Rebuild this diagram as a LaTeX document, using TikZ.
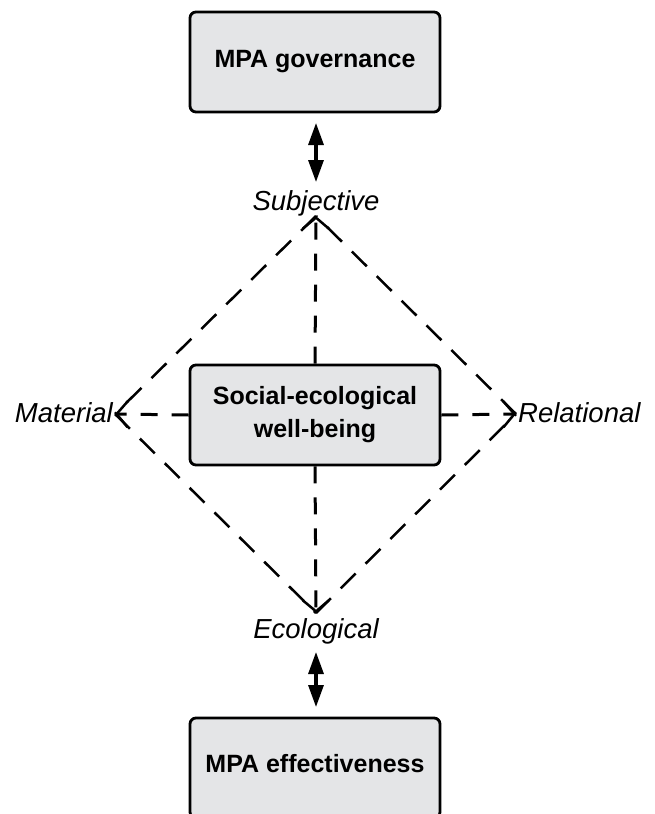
\documentclass[tikz,border=0pt]{standalone}
\usepackage{fontspec}
\setmainfont{Liberation Sans}
\usetikzlibrary{arrows.meta}
\definecolor{boxgray}{HTML}{E4E5E7}
\begin{document}
\begin{tikzpicture}[x=1pt,y=-1pt,
  mainbox/.style={draw=black, line width=2.8pt, fill=boxgray, rounded corners=6pt,
    minimum width=250pt, minimum height=100pt, inner sep=0pt, align=center,
    font=\fontsize{25}{33}\selectfont\bfseries},
  dimlabel/.style={inner sep=0pt, font=\fontsize{27.5}{30}\selectfont\itshape},
  spoke/.style={line width=3pt, dash pattern=on 17pt off 14pt,
    -{Straight Barb[length=11pt,width=26pt,line width=2.5pt]}},
  edge/.style={line width=2.5pt, dash pattern=on 21pt off 14pt},
  dbl/.style={line width=3.2pt, {Triangle[length=22pt,width=15pt]}-{Triangle[length=22pt,width=15pt]}}
]
\useasboundingbox (0,0) rectangle (655,814);
\node[mainbox] (gov) at (315,62) {MPA governance};
\node[mainbox] (swb) at (315,415) {Social-ecological\\well-being};
\node[mainbox] (eff) at (315,768) {};
\node[inner sep=0pt, anchor=base, font=\fontsize{25}{33}\selectfont\bfseries] (efftxt) at (315,772) {MPA effectiveness};

\coordinate (S) at (316,216);
\coordinate (E) at (316,613);
\coordinate (M) at (115,414);
\coordinate (R) at (516,414);

\node[dimlabel, anchor=base] (subj) at (316,210) {Subjective};
\node[dimlabel, anchor=base] (eco) at (316,638) {Ecological};
\node[dimlabel, anchor=base east] (mat) at (113,422) {Material};
\node[dimlabel, anchor=base west] (rel) at (518,422) {Relational};

% dashed spokes
\draw[spoke] (swb.north) -- (S);
\draw[spoke] (swb.south) -- (E);
\draw[spoke] (swb.west) -- (M);
\draw[spoke] (swb.east) -- (R);

% dashed diamond
\draw[edge] (S) -- (M);
\draw[edge] (M) -- (E);
\draw[edge] (E) -- (R);
\draw[edge] (R) -- (S);

% double arrows
\coordinate (a1) at (316,123);
\coordinate (a2) at (316,182);
\coordinate (b1) at (316,652);
\coordinate (b2) at (316,707);
\draw[dbl] (a1) -- (a2);
\draw[dbl] (b1) -- (b2);
\end{tikzpicture}
\end{document}
